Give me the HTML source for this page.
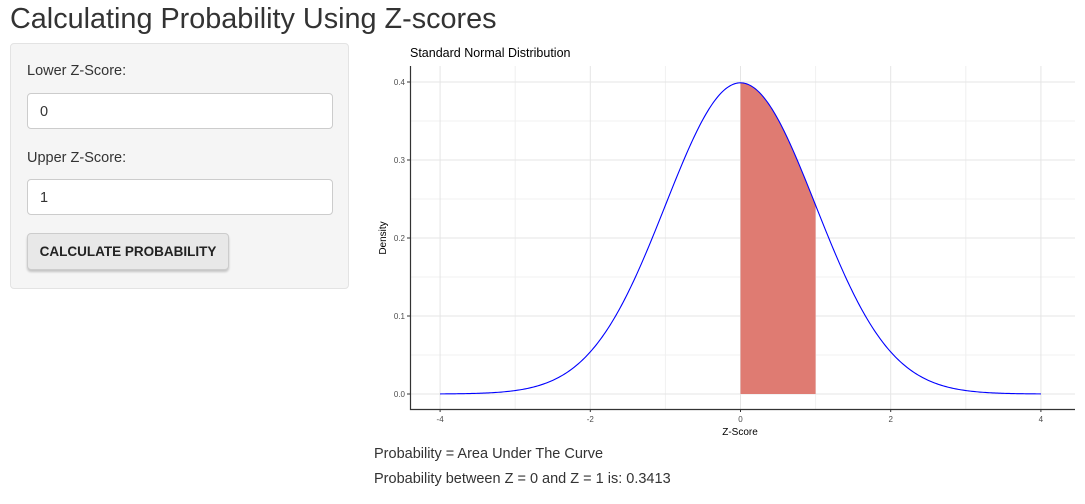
<!DOCTYPE html>
<html><head><meta charset="utf-8"><style>
body{margin:0;width:1085px;height:504px;background:#fff;font-family:"Liberation Sans",sans-serif;color:#333;position:relative;overflow:hidden}
.abs{position:absolute}
h1{position:absolute;left:10px;top:1px;margin:0;font-size:28.8px;font-weight:400;line-height:36px;color:#333}
.panel{left:10px;top:43px;width:337px;height:244px;background:#f5f5f5;border:1px solid #e3e3e3;border-radius:4px}
.lbl{font-size:14.5px;color:#333}
.inp{width:303px;height:34px;background:#fff;border:1px solid #ccc;border-radius:4px;font-size:14.5px;line-height:34px;padding-left:12px;box-sizing:border-box}
.btn{width:202px;height:37px;background:#e8e8e8;border:1px solid #ccc;border-radius:4px;box-shadow:0 2px 2px rgba(0,0,0,.2);font-size:13.5px;font-weight:bold;line-height:35px;text-align:center;box-sizing:border-box;color:#222}
.txt{font-size:14.5px;color:#333}
</style></head><body>
<h1>Calculating Probability Using Z-scores</h1>
<div class="abs panel"></div>
<div class="abs lbl" style="left:27px;top:63px">Lower Z-Score:</div>
<div class="abs inp" style="left:27px;top:93px;width:306px;height:36px;line-height:36px">0</div>
<div class="abs lbl" style="left:27px;top:150px">Upper Z-Score:</div>
<div class="abs inp" style="left:27px;top:179px;width:306px;height:36px;line-height:36px">1</div>
<div class="abs btn" style="left:27px;top:233px">CALCULATE PROBABILITY</div>
<svg class="abs" style="left:0;top:0" width="1085" height="504" id="chart"></svg>
<div class="abs txt" style="left:374px;top:446px">Probability = Area Under The Curve</div>
<div class="abs txt" style="left:374px;top:471px">Probability between Z = 0 and Z = 1 is: 0.3413</div>
<script>
const xTicks=[-4,-2,0,2,4];
const yTicks=[0.0,0.1,0.2,0.3,0.4];
const bounds=[0,1];
const xRange=[-4,4];
const NS='http://www.w3.org/2000/svg';
const svg=document.getElementById('chart');
const X=v=>740.5+v*75.1;
const Y=v=>394-v*780;
const dens=z=>Math.exp(-z*z/2)/Math.sqrt(2*Math.PI);
function mk(t,a){const e=document.createElementNS(NS,t);for(const k in a)e.setAttribute(k,a[k]);svg.appendChild(e);return e;}
for(let v=-5;v<=5;v+=2){const x=X(v);if(x>411&&x<1075){const l=mk('line',{x1:x,x2:x,y1:66,y2:409,stroke:'#f0f0f0','stroke-width':1});

}}
for(let i=0;i<4;i++){const v=0.05+0.1*i;const l=mk('line',{x1:411,x2:1075,y1:Y(v),y2:Y(v),stroke:'#f0f0f0','stroke-width':1});

}
xTicks.forEach(v=>{const l=mk('line',{x1:X(v),x2:X(v),y1:66,y2:409,stroke:'#e5e5e5','stroke-width':1});


const t=mk('text',{x:X(v),y:422,'font-size':8,fill:'#4d4d4d','text-anchor':'middle','font-family':'Liberation Sans'});t.textContent=v;


mk('line',{x1:X(v),x2:X(v),y1:409,y2:412,stroke:'#333'});});
yTicks.forEach(v=>{const l=mk('line',{x1:411,x2:1075,y1:Y(v),y2:Y(v),stroke:'#e5e5e5','stroke-width':1});


const t=mk('text',{x:405,y:Y(v)+3,'font-size':8,fill:'#4d4d4d','text-anchor':'end','font-family':'Liberation Sans'});t.textContent=v.toFixed(1);


mk('line',{x1:407,x2:410,y1:Y(v),y2:Y(v),stroke:'#333'});});
let d=`M${X(bounds[0])},${Y(0)}`;
for(let i=0;i<=100;i++){const z=bounds[0]+(bounds[1]-bounds[0])*i/100;d+=` L${X(z)},${Y(dens(z))}`;}
d+=` L${X(bounds[1])},${Y(0)} Z`;
const area=mk('path',{d:d,fill:'#df7b72'});


let c='';
for(let i=0;i<=400;i++){const z=xRange[0]+(xRange[1]-xRange[0])*i/400;c+=(i?' L':'M')+X(z)+','+Y(dens(z));}
const curve=mk('path',{d:c,fill:'none',stroke:'#0000ff','stroke-width':1.1});


const ax=mk('path',{d:'M410.5,66 V409.5 H1075',fill:'none',stroke:'#333','stroke-width':1.2});


const tt=mk('text',{x:410,y:57,'font-size':12.5,fill:'#000','font-family':'Liberation Sans'});tt.textContent='Standard Normal Distribution';


const xt=mk('text',{x:740,y:435,'font-size':10,fill:'#000','text-anchor':'middle','font-family':'Liberation Sans'});xt.textContent='Z-Score';


const yt=mk('text',{x:0,y:0,'font-size':10,fill:'#000','text-anchor':'middle','font-family':'Liberation Sans',transform:'translate(386,238) rotate(-90)'});yt.textContent='Density';


</script>
</body></html>
